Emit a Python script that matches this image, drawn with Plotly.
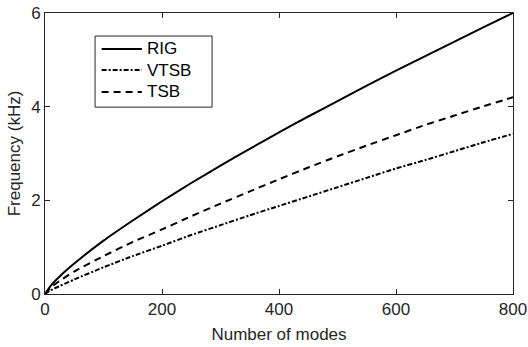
import plotly.graph_objects as go

# Number of modes (x) and resulting frequency range in kHz for each model
modes = [0, 10, 25, 50, 100, 150, 200, 250, 300, 350, 400, 450, 500, 550, 600, 650, 700, 750, 800]
rig = [0, 0.18, 0.375, 0.65, 1.14, 1.57, 1.98, 2.37, 2.74, 3.10, 3.45, 3.79, 4.12, 4.45, 4.77, 5.08, 5.39, 5.70, 6.0]
vtsb = [0, 0.08, 0.17, 0.31, 0.57, 0.81, 1.03, 1.26, 1.47, 1.68, 1.88, 2.08, 2.28, 2.48, 2.68, 2.86, 3.05, 3.24, 3.42]
tsb = [0, 0.14, 0.28, 0.48, 0.81, 1.11, 1.38, 1.66, 1.93, 2.19, 2.45, 2.70, 2.94, 3.17, 3.39, 3.61, 3.81, 4.01, 4.2]

x_ticks = [0, 200, 400, 600, 800]
y_ticks = [0, 2, 4, 6]

font_family = "Liberation Sans, Arial, sans-serif"
ink = "#262626"

series = [
    ("RIG", rig, "solid"),
    ("VTSB", vtsb, "5px,2px,2px,2px"),
    ("TSB", tsb, "7px,5px"),
]

fig = go.Figure()
for name, values, dash in series:
    fig.add_trace(go.Scatter(x=modes, y=values, name=name, mode="lines", showlegend=False,
                             line=dict(color="black", width=2, dash=dash,
                                       shape="spline", smoothing=0.6)))

axis_common = dict(
    showgrid=False, zeroline=False, showline=True, linecolor=ink, linewidth=1,
    mirror="ticks", ticks="inside", ticklen=5, tickcolor=ink, tickwidth=1,
    tickfont=dict(family=font_family, size=17, color=ink), automargin=False,
)

fig.update_xaxes(range=[0, 800], tickvals=x_ticks,
                 title=dict(text="Number of modes", font=dict(family=font_family, size=17, color=ink), standoff=9),
                 **axis_common)
fig.update_yaxes(range=[0, 6], tickvals=y_ticks,
                 title=dict(text="Frequency (kHz)", font=dict(family=font_family, size=17, color=ink), standoff=6),
                 **axis_common)

# Boxed legend in the upper-left corner of the axes (positions in axes-domain fractions)
box_x0, box_x1 = 0.107, 0.357
box_y0, box_y1 = 0.665, 0.918
sample_x0, sample_x1 = 0.121, 0.207
label_x = 0.214
row_y = [0.872, 0.797, 0.719]

fig.add_shape(type="rect", xref="x domain", yref="y domain",
              x0=box_x0, x1=box_x1, y0=box_y0, y1=box_y1,
              line=dict(color=ink, width=1), fillcolor="white", layer="above")
for (name, _, dash), yy in zip(series, row_y):
    fig.add_shape(type="line", xref="x domain", yref="y domain",
                  x0=sample_x0, x1=sample_x1, y0=yy, y1=yy,
                  line=dict(color="black", width=2, dash=dash), layer="above")
    fig.add_annotation(xref="x domain", yref="y domain", x=label_x, y=yy,
                       text=name, showarrow=False, xanchor="left", yanchor="middle",
                       font=dict(family=font_family, size=17, color="black"))

fig.update_layout(
    width=528, height=347,
    margin=dict(l=45, r=15, t=13, b=53),
    plot_bgcolor="white", paper_bgcolor="white",
    font=dict(family=font_family, size=17, color=ink),
    showlegend=False,
)

fig.write_html("out.html")
